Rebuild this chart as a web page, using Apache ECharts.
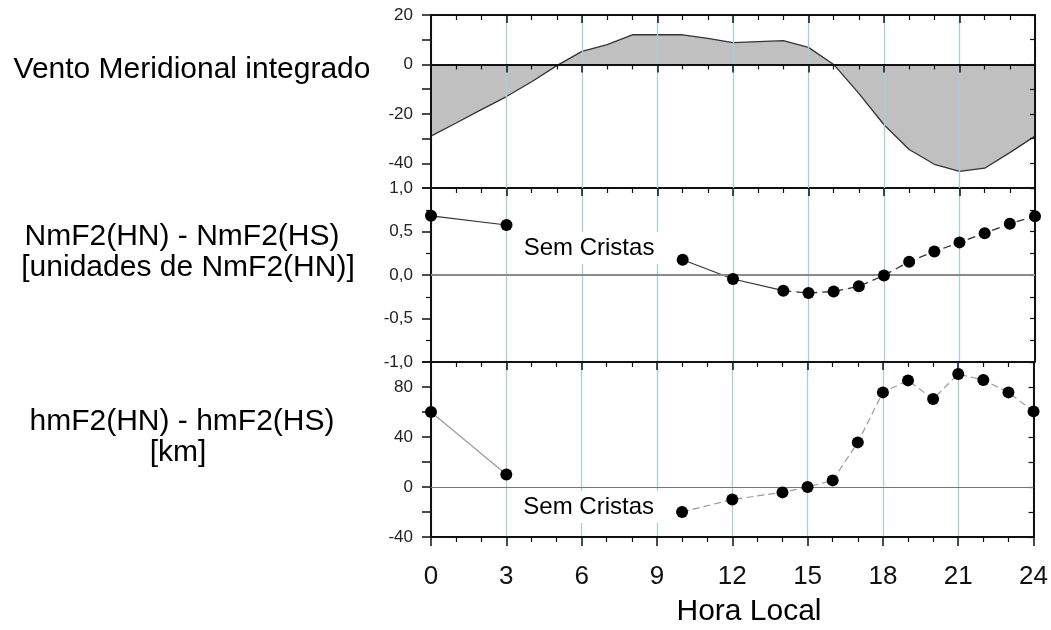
<!DOCTYPE html>
<html><head><meta charset="utf-8">
<script src="https://cdn.jsdelivr.net/npm/echarts@6/dist/echarts.min.js"></script>
<style>html,body{margin:0;padding:0;background:#fff}#c{width:1051px;height:630px}</style>
</head><body><div id="c"></div>
<script>
// ---- data ----
const windHours  = [0,1,2,3,4,5,6,7,8,9,10,11,12,13,14,15,16,17,18,19,20,21,22,23,24];
const windValues = [-29,-23.7,-18.3,-13,-7,-0.5,5.3,8,12,12,12,10.5,8.8,9.2,9.6,6.9,0,-11.7,-24.4,-34.4,-40.4,-43.3,-42,-35.7,-29];
const nmHours  = [0,3,10,12,14,15,16,17,18,19,20,21,22,23,24];
const nmValues = [0.68,0.575,0.176,-0.046,-0.18,-0.207,-0.19,-0.13,-0.005,0.153,0.27,0.375,0.48,0.59,0.675];
const hmHours  = [0,3,10,12,14,15,16,17,18,19,20,21,22,23,24];
const hmValues = [60,10,-20,-10,-4.3,0,5.3,35.7,75.7,85.3,70.4,90.4,85.6,75.7,60.5];
const xTickLabels = ['0','3','6','9','12','15','18','21','24'];
const noteText = 'Sem Cristas';
const nmNote = [6.28, 0.31];
const hmNote = [6.28, -16];
const titleTop = 'Vento Meridional integrado';
const titleMid = ['NmF2(HN) - NmF2(HS)', '[unidades de NmF2(HN)]'];
const titleBot = ['hmF2(HN) - hmF2(HS)', '[km]'];
const xName = 'Hora Local';

const FONT = 'Liberation Sans, Arial, sans-serif';
const pairs = (xs, ys, a, b) => xs.slice(a, b + 1).map((x, i) => [x, ys[a + i]]);

const chart = echarts.init(document.getElementById('c'));
const L = 431, W = 604;
const grids = [
  {left: L, top: 15,  width: W, height: 173},
  {left: L, top: 188, width: W, height: 174},
  {left: L, top: 362, width: W, height: 175},
  {left: L, top: 15,  width: W, height: 173}
];
const AX = '#111', CYAN = '#9fd3d6';
function frameX(gi, pos, z, split) {
  return {
    type: 'value', gridIndex: gi, position: pos, min: 0, max: 24, interval: 3, z: z,
    axisLine: {onZero: false, lineStyle: {color: AX, width: 2}},
    axisTick: {inside: true, length: 8, lineStyle: {color: AX, width: 1.5}},
    minorTick: {show: true, splitNumber: 3, length: 5, lineStyle: {color: AX, width: 1.2}},
    axisLabel: {show: false},
    splitLine: {show: split, lineStyle: {color: CYAN, width: 1.3}},
    minorSplitLine: {show: false}
  };
}
function leftY(gi, min, max, interval, fmt, z) {
  return {
    type: 'value', gridIndex: gi, position: 'left', min, max, interval, z: z,
    axisLine: {onZero: false, lineStyle: {color: AX, width: 2}},
    axisTick: {inside: false, length: 9, lineStyle: {color: AX, width: 1.5}},
    axisLabel: {formatter: fmt, fontFamily: FONT, fontSize: 17, color: '#222', margin: 18},
    splitLine: {show: false}
  };
}
function rightY(gi, min, max, interval, z) {
  return {
    type: 'value', gridIndex: gi, position: 'right', min, max, interval, z: z,
    axisLine: {onZero: false, lineStyle: {color: AX, width: 2}},
    axisTick: {inside: true, length: 5, lineStyle: {color: AX, width: 1.2}},
    axisLabel: {show: false},
    splitLine: {show: false}
  };
}

const xAxes = [
  frameX(0, 'top', 3, true),
  frameX(1, 'top', 0, true),
  frameX(2, 'top', 0, true),
  Object.assign(frameX(2, 'bottom', 0, false), {
    axisTick: {inside: false, length: 9, lineStyle: {color: AX, width: 1.5}},
    minorTick: {show: true, splitNumber: 3, length: 5, lineStyle: {color: AX, width: 1.2}},
    axisLabel: {show: true, fontFamily: FONT, fontSize: 26, color: '#111', margin: 27,
      formatter: v => xTickLabels[Math.round(v / 3)]}
  }),
  Object.assign(frameX(3, 'top', 4, false), {axisLine: {onZero: true, lineStyle: {color: AX, width: 2}}})
];
const yAxes = [
  leftY(0, -50, 20, 10, v => (v % 20 === 0 ? String(v) : ''), 3),
  rightY(0, -50, 20, 10, 3),
  leftY(1, -1, 1, 0.5, v => v.toFixed(1).replace('.', ','), 0),
  rightY(1, -1, 1, 0.25, 0),
  leftY(2, -40, 100, 20, v => (v % 40 === 0 ? String(v) : ''), 0),
  rightY(2, -40, 100, 20, 0),
  {type: 'value', gridIndex: 3, min: -50, max: 20, show: false}
];
yAxes[2].minorTick = {show: true, splitNumber: 2, length: 5, lineStyle: {color: AX, width: 1.2}};
yAxes[2].minorSplitLine = {show: false};

const dot = {type: 'scatter', symbol: 'circle', symbolSize: 12, itemStyle: {color: '#000', opacity: 1}, z: 5};
const noteSeries = (xi, yi, pt) => ({
  type: 'scatter', xAxisIndex: xi, yAxisIndex: yi, data: [pt], symbolSize: 1,
  itemStyle: {color: '#fff', opacity: 1}, z: 6, silent: true,
  label: {show: true, position: 'inside', formatter: noteText, fontFamily: FONT, fontSize: 24,
    color: '#000', opacity: 1, backgroundColor: '#fff', padding: [4, 9]}
});

const series = [
  {type: 'line', xAxisIndex: 0, yAxisIndex: 0, data: windHours.map((h, i) => [h, windValues[i]]),
   symbol: 'none', lineStyle: {color: '#333', width: 1.3}, areaStyle: {color: '#c0c0c0', opacity: 1, origin: 0}, z: 2},
  {type: 'line', xAxisIndex: 1, yAxisIndex: 2, data: pairs(nmHours, nmValues, 0, 1), symbol: 'none',
   lineStyle: {color: '#333', width: 1.2},
   markLine: {silent: true, symbol: 'none', label: {show: false}, data: [{yAxis: 0}],
     lineStyle: {color: '#8a8a8a', width: 2, type: 'solid'}}},
  {type: 'line', xAxisIndex: 1, yAxisIndex: 2, data: pairs(nmHours, nmValues, 2, 4), symbol: 'none',
   lineStyle: {color: '#333', width: 1.2}},
  {type: 'line', xAxisIndex: 1, yAxisIndex: 2, data: pairs(nmHours, nmValues, 4, nmHours.length - 1), symbol: 'none',
   lineStyle: {color: '#333', width: 1.3, type: [8, 5]}},
  Object.assign({}, dot, {xAxisIndex: 1, yAxisIndex: 2, data: nmHours.map((h, i) => [h, nmValues[i]])}),
  noteSeries(1, 2, nmNote),
  {type: 'line', xAxisIndex: 2, yAxisIndex: 4, data: pairs(hmHours, hmValues, 0, 1), symbol: 'none',
   lineStyle: {color: '#9a9a9a', width: 1.2},
   markLine: {silent: true, symbol: 'none', label: {show: false}, data: [{yAxis: 0}],
     lineStyle: {color: '#777', width: 1.2, type: 'solid'}}},
  {type: 'line', xAxisIndex: 2, yAxisIndex: 4, data: pairs(hmHours, hmValues, 2, hmHours.length - 1), symbol: 'none',
   lineStyle: {color: '#9a9a9a', width: 1.2, type: [7, 4]}},
  Object.assign({}, dot, {xAxisIndex: 2, yAxisIndex: 4, data: hmHours.map((h, i) => [h, hmValues[i]])}),
  noteSeries(2, 4, hmNote)
];

const txt = (x, y, t) => ({type: 'text', x, y, silent: true,
  style: {text: t, fontFamily: FONT, fontSize: 30, fill: '#000', align: 'center', verticalAlign: 'middle'}});

chart.setOption({
  animation: false,
  backgroundColor: '#fff',
  grid: grids,
  xAxis: xAxes,
  yAxis: yAxes,
  series: series,
  graphic: [
    txt(192, 70, titleTop),
    txt(182, 237, titleMid[0]),
    txt(188, 268, titleMid[1]),
    txt(182, 422, titleBot[0]),
    txt(178, 453, titleBot[1]),
    txt(749, 612, xName)
  ]
});
</script></body></html>
